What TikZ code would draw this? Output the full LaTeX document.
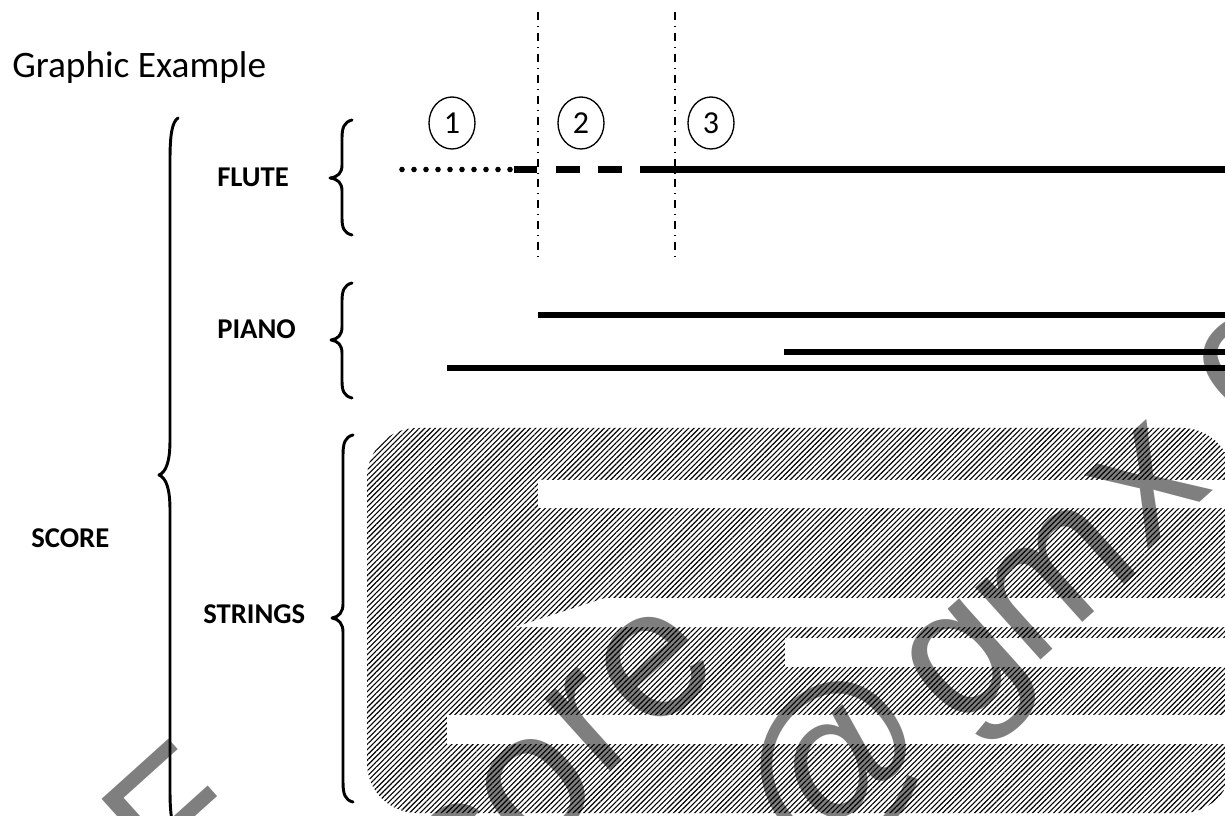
\documentclass[tikz,border=0pt]{standalone}
\usepackage{fontspec}
\setmainfont{Carlito}
\newfontfamily\wmfont{Liberation Sans}
\usetikzlibrary{shapes.geometric,patterns.meta}
\begin{document}
\begin{tikzpicture}[x=0.75pt,y=-0.75pt,
  instlabel/.style={font=\bfseries\fontsize{21.5}{21.5}\selectfont, inner sep=0pt, anchor=base west},
  titlestyle/.style={font=\fontsize{28}{28}\selectfont, inner sep=0pt, anchor=base west},
  bracestyle/.style={line width=2.2pt, line cap=round, line join=round},
  part/.style={line width=4.8pt},
  barline/.style={dash pattern=on 6pt off 4.5pt on 0.7pt off 4.5pt, line width=1.1pt},
  num/.style={draw, ellipse, line width=1pt, minimum width=34.5pt, minimum height=39pt, inner sep=0pt, font=\fontsize{24}{24}\selectfont},
  wm/.style={font=\wmfont\fontsize{138}{138}\selectfont, text=black, text opacity=0.5, rotate=42, inner sep=0pt, anchor=center},
  hatch/.style={pattern={Lines[angle=45,distance=2.8pt,line width=0.85pt]}, pattern color=black}
]
\useasboundingbox (0,0) rectangle (1225,816);
\clip (0,0) rectangle (1225,816);

% strings hatched block
\path[hatch, rounded corners=37.5pt] (367,428) rectangle (1232,813);
\fill[white] (538,480) rectangle (1240,508);
\fill[white] (515,627) -- (605,598) -- (1240,598) -- (1240,627) -- cycle;
\fill[white] (785,638) rectangle (1240,667);
\fill[white] (447,715) rectangle (1240,744);

% title and labels
\node[titlestyle] (title) at (12,78) {Graphic Example};
\node[instlabel] (flute) at (217,187) {FLUTE};
\node[instlabel] (piano) at (217,339) {PIANO};
\node[instlabel] (strings) at (203,623) {STRINGS};
\node[instlabel] (score) at (31,547) {SCORE};

% braces
\draw[bracestyle] (178,118) .. controls (172,122) and (170,135) .. (170,160) -- (170,440)
  .. controls (170,462) and (166,472) .. (159,475) .. controls (166,478) and (170,488) .. (170,510)
  -- (170,790) .. controls (170,815) and (172,828) .. (178,832);
\draw[bracestyle] (352,120) .. controls (344,122) and (342,128) .. (342,138) -- (342,165)
  .. controls (342,173) and (338,177) .. (330,178) .. controls (338,179) and (342,183) .. (342,191)
  -- (342,218) .. controls (342,228) and (344,233) .. (352,235);
\draw[bracestyle] (352,283) .. controls (344,285) and (342,291) .. (342,301) -- (342,327)
  .. controls (342,335) and (338,339) .. (331,340) .. controls (338,341) and (342,345) .. (342,353)
  -- (342,381) .. controls (342,391) and (344,396) .. (352,398);
\draw[bracestyle] (353,435) .. controls (345,437) and (343,443) .. (343,455) -- (343,604)
  .. controls (343,612) and (339,617) .. (332,618) .. controls (339,619) and (343,624) .. (343,632)
  -- (343,782) .. controls (343,794) and (345,800) .. (353,802);

% section markers
\coordinate (v1top) at (538,12);
\coordinate (v1bot) at (538,263);
\coordinate (v2top) at (675,12);
\coordinate (v2bot) at (675,263);
\draw[barline] (v1top) -- (v1bot);
\draw[barline] (v2top) -- (v2bot);
\node[num] (n1) at (452,123) {1};
\node[num] (n2) at (581,123) {2};
\node[num] (n3) at (711,123) {3};

% flute line
\foreach \i in {0,...,9} \fill (402+12*\i,169.5) circle[radius=2.1pt];
\draw[part] (514,169.5) -- (537,169.5);
\draw[part] (556,169.5) -- (580,169.5);
\draw[part] (598,169.5) -- (622,169.5);
\draw[part] (640,169.5) -- (1240,169.5);

% piano lines
\draw[part] (538,315) -- (1240,315);
\draw[part] (784,352) -- (1240,352);
\draw[part] (447,368) -- (1240,368);

% watermark
\node[wm] (wF) at (175,819) {F};
\node[wm] (wc) at (464,855) {c};
\node[wm] (wo) at (536,790) {o};
\node[wm] (wr) at (590,722) {r};
\node[wm] (we) at (655,667) {e};
\node[wm] (wat) at (838,767) {@};
\node[wm] (wg) at (975,675) {g};
\node[wm] (wm) at (1055,580) {m};
\node[wm] (wx) at (1148,484) {x};
\node[wm] (wc2) at (1249,368) {c};
\end{tikzpicture}
\end{document}
